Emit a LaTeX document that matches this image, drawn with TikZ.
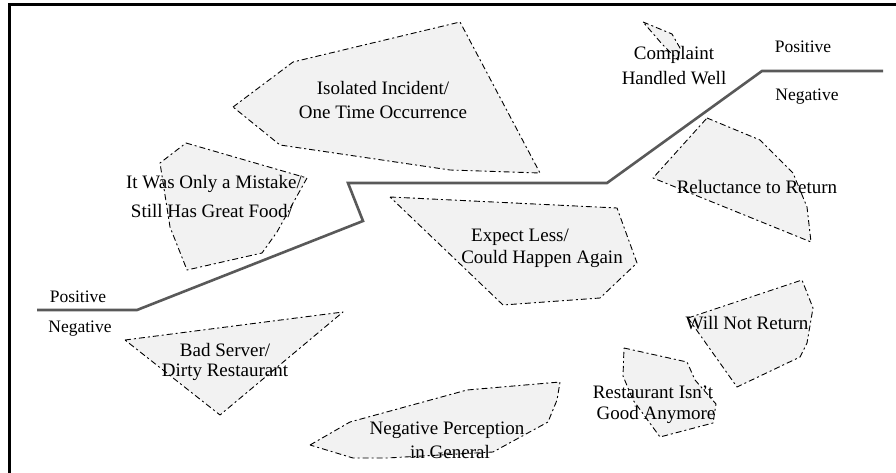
\documentclass[tikz,border=0pt]{standalone}
\usepackage{fontspec}
\setmainfont{Liberation Serif}
\begin{document}
\begin{tikzpicture}[x=1pt,y=-1pt,
  poly/.style={draw=black, line width=0.9pt, fill=black!5,
    dash pattern=on 6pt off 3pt on 2pt off 3pt, line join=round},
  divide/.style={draw=black!65, line width=2.6pt, line join=miter},
  lbl/.style={font=\fontsize{19}{22}\selectfont, inner sep=0pt, text=black},
  side/.style={font=\fontsize{17.5}{20}\selectfont, inner sep=0pt, text=black}]
\useasboundingbox (0,0) rectangle (896,473);
\fill[white] (0,0) rectangle (896,473);
% frame
\draw[line width=3pt, black] (9.5,473) -- (9.5,5) -- (896,5);

% dividing line
\draw[divide] (37,310) -- (137,310) -- (363,221) -- (348,183) -- (607,183) -- (762,71) -- (883,71);

% polygons
\draw[poly] (233,107) -- (293,62) -- (460,22) -- (540,173) -- (450,170) -- (280,145) -- cycle;
\draw[poly] (186,143) -- (307,178) -- (277,232) -- (262,253) -- (187,270) -- (170,227) -- (160,163) -- cycle;
\draw[poly] (390,197) -- (617,208) -- (637,263) -- (600,298) -- (503,305) -- cycle;
\draw[poly] (707,118) -- (760,140) -- (793,173) -- (807,207) -- (811,242) -- (653,178) -- cycle;
\draw[poly] (688,318) -- (802,280) -- (813,308) -- (807,343) -- (800,357) -- (737,387) -- cycle;
\draw[poly] (624,348) -- (687,362) -- (695,380) -- (716,404) -- (713,423) -- (660,437) -- (633,400) -- (623,376) -- cycle;
\draw[poly] (310,445) -- (350,422) -- (467,390) -- (560,382) -- (557,400) -- (548,422) -- (493,452) -- (387,458) -- (353,458) -- cycle;
\draw[poly] (125,340) -- (343,312) -- (220,415) -- cycle;
\draw[poly] (643,22) -- (672,34) -- (680,48) -- (678,60) -- (662,44) -- cycle;

% labels
\node[lbl] (iso1) at (383,88) {Isolated Incident/};
\node[lbl] (iso2) at (383,112) {One Time Occurrence};
\node[lbl] (mis1) at (214,184) {It Was Only a Mistake/};
\node[lbl] (mis2) at (212,211) {Still Has Great Food/};
\node[lbl] (exp1) at (520,237) {Expect Less/};
\node[lbl] (exp2) at (542,259) {Could Happen Again};
\node[lbl] (rel) at (757,187) {Reluctance to Return};
\node[lbl] (wnr) at (747,323) {Will Not Return};
\node[lbl] (rst1) at (653,392) {Restaurant Isn't};
\node[lbl] (rst2) at (656,415) {Good Anymore};
\node[lbl] (neg1) at (447,430) {Negative Perception};
\node[lbl] (neg2) at (450,452) {in General};
\node[lbl] (bad1) at (225,350) {Bad Server/};
\node[lbl] (bad2) at (225,372) {Dirty Restaurant};
\node[lbl] (cmp1) at (674,55) {Complaint};
\node[lbl] (cmp2) at (674,78) {Handled Well};

\node[side] (posR) at (803,47) {Positive};
\node[side] (negR) at (807,97) {Negative};
\node[side] (posL) at (78,297) {Positive};
\node[side] (negL) at (80,329) {Negative};
\end{tikzpicture}
\end{document}
